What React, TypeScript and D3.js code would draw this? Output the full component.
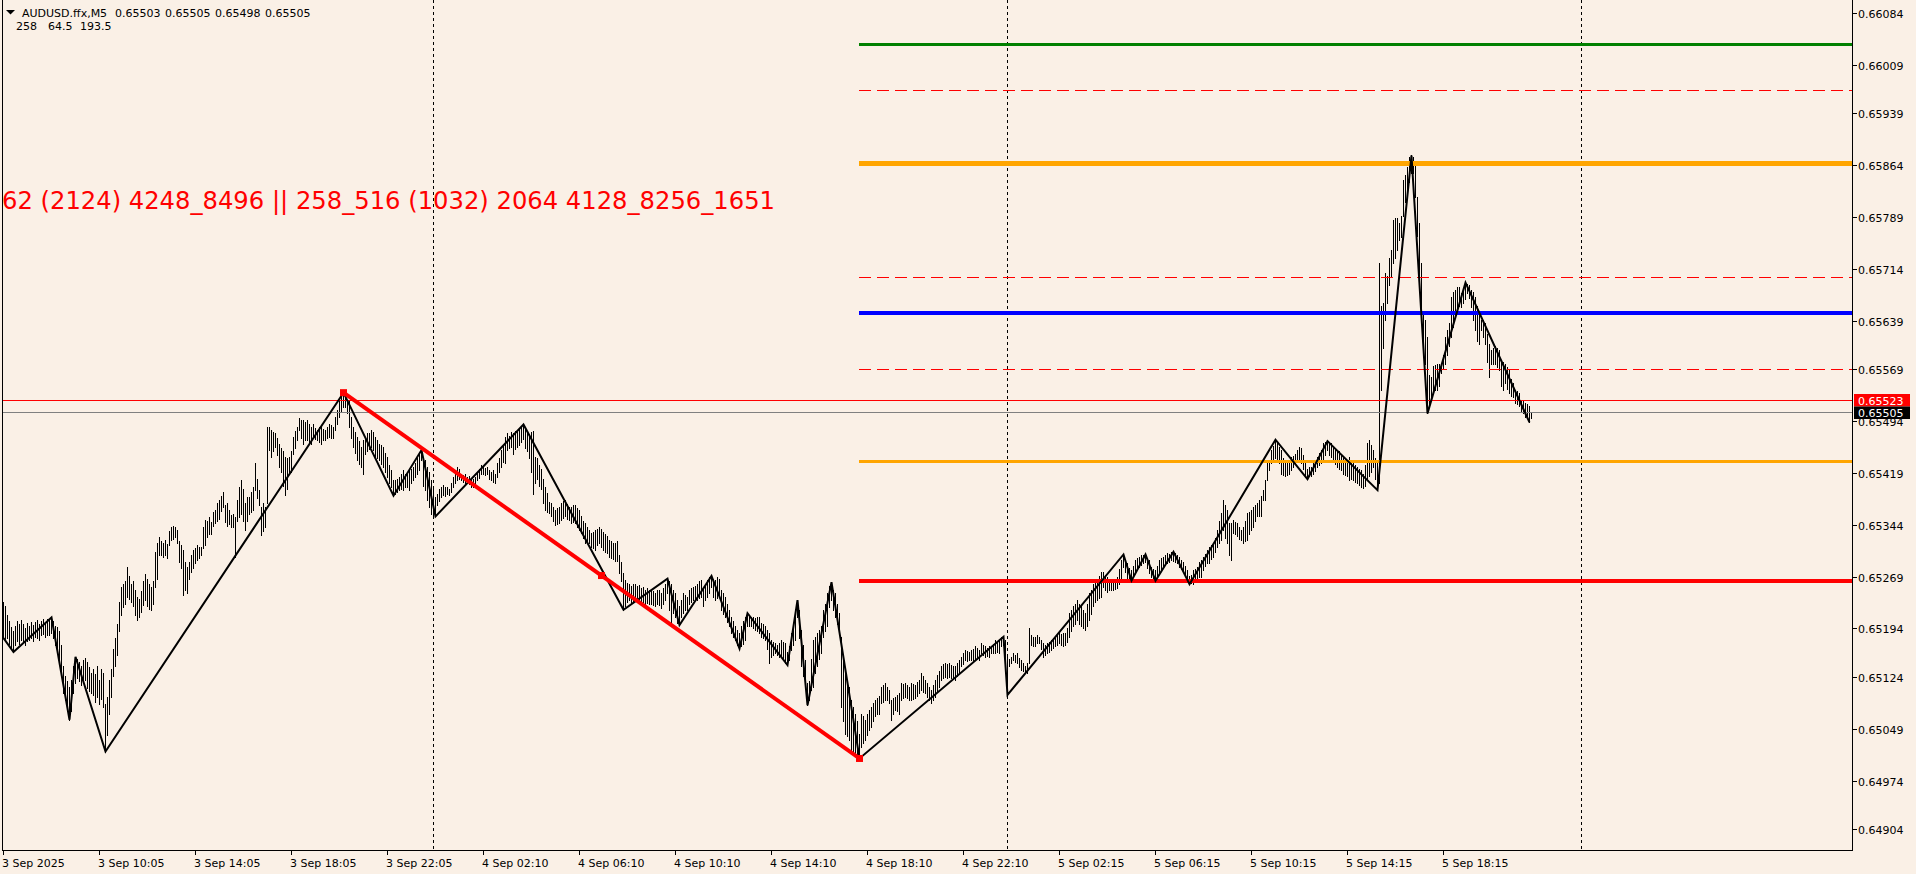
import React from "react";
import * as d3 from "d3";

const WIDTH = 1916;
const HEIGHT = 874;
const FONT = "'DejaVu Sans', sans-serif";

// ---------- DATA ----------
// Bar highs / lows in points (0.00001) above 0.65000, M5 bars
const high3Sep = [
  232,226,214,205,196,190,198,205,200,206,
  200,195,202,198,203,199,204,206,200,205,
  208,203,207,206,210,205,198,196,190,170,
  140,125,118,110,120,140,153,150,146,140,
  148,152,145,138,130,136,128,140,120,135,
  130,85,95,120,135,165,180,200,232,254,
  258,262,283,270,259,262,250,240,236,248,
  262,273,266,258,254,262,305,317,326,320,
  317,322,316,335,341,342,340,336,320,314,
  307,290,283,290,300,307,310,314,312,312,
  340,351,350,355,348,362,365,375,380,386,
  391,372,375,366,358,360,355,380,399,408,
  395,375,384,384,392,399,433,410,394,370,
  375,370,486,486,481,478,476,470,461,455,
  450,442,440,442,450,471,480,486,498,495,
  495,493,495,490,486,490,484,481,486,486,
  482,481,485,490,488,486,500,510,524,530,
  535,531,525,524,500,486,478,471,465,457,
  466,471,476,476,481,478,471,466,461,460,
  457,448,442,430,423,408,408,410,413,418,
  423,418,420,423,425,428,433,440,447,452,
  440,437,428,420,408,
];
const low3Sep = [
  180,178,180,172,166,160,170,176,172,178,
  174,170,176,178,180,176,182,180,178,184,
  186,182,185,184,188,180,170,160,150,130,
  100,90,75,62,75,100,115,122,118,112,
  116,120,108,104,100,98,88,95,85,92,
  80,16,40,70,95,125,140,155,190,214,
  225,230,240,236,232,226,214,206,210,218,
  228,235,226,222,220,230,254,266,300,300,
  298,300,296,315,322,324,326,317,290,282,
  242,250,245,266,275,281,288,293,296,300,
  310,314,326,330,331,342,346,350,352,364,
  370,348,342,345,341,340,298,350,355,360,
  350,336,350,360,362,365,394,382,372,329,
  335,341,375,452,442,450,457,445,428,420,
  400,387,395,418,420,447,455,466,481,470,
  461,466,466,462,461,469,468,466,463,461,
  466,466,470,471,469,470,481,490,500,508,
  514,514,505,486,470,457,448,437,432,428,
  418,447,450,454,457,452,442,440,437,432,
  428,420,413,405,399,386,389,392,394,396,
  394,399,398,394,404,408,413,418,423,437,
  400,394,380,370,360,
];
const high4Sep = [
  395,384,389,395,399,
  401,398,399,396,405,413,420,428,424,418,
  416,417,413,414,408,410,413,420,425,430,
  428,426,428,423,420,423,418,433,440,452,
  460,471,476,472,478,476,480,481,484,486,
  489,485,480,475,478,479,442,440,430,425,
  410,398,390,377,375,370,365,368,370,375,
  378,380,374,370,370,372,373,368,365,356,
  350,346,340,336,332,334,336,338,341,338,
  334,330,327,322,320,317,318,320,300,290,
  274,264,260,259,255,258,259,256,257,252,
  254,250,252,250,250,248,245,249,250,245,
  252,259,266,262,259,250,245,235,226,235,
  245,242,240,250,252,254,256,259,262,264,
  254,258,264,268,270,266,264,268,266,250,
  245,240,230,221,211,205,197,192,187,197,
  205,211,216,214,211,210,209,210,211,202,
  200,197,192,187,177,175,173,170,173,177,
  175,173,160,168,187,200,211,235,220,192,
  170,148,115,118,150,177,182,187,192,197,
  221,230,245,255,261,250,245,230,216,182,
  150,129,120,110,91,80,71,60,42,71,
  68,62,70,76,81,86,91,94,96,110,
  112,115,110,105,91,93,95,98,100,115,
  114,115,112,110,115,113,112,116,120,129,
  125,120,115,110,105,112,120,126,132,139,
  142,144,143,144,141,140,139,144,148,153,
  158,163,161,160,163,165,168,166,163,173,
  170,168,166,168,168,172,177,175,177,182,
  182,177,
];
const low4Sep = [
  358,356,372,378,384,
  387,386,389,387,392,399,404,408,410,408,
  406,405,404,403,399,398,399,408,412,418,
  418,416,418,410,408,406,404,413,420,428,
  435,433,452,455,457,447,454,456,460,464,
  468,455,450,440,420,389,405,410,400,395,
  375,365,362,361,356,350,344,345,346,351,
  354,356,352,351,346,348,346,340,336,332,
  325,317,318,317,312,310,308,314,317,312,
  308,305,303,298,296,295,292,291,274,262,
  221,226,232,235,230,233,235,234,235,230,
  232,230,231,230,230,228,226,229,228,223,
  230,235,245,220,202,216,210,202,199,210,
  216,220,221,230,232,235,236,235,238,240,
  226,235,240,245,254,240,235,238,240,221,
  215,211,204,197,187,182,177,170,165,168,
  172,177,197,198,197,195,192,190,187,182,
  180,177,165,144,153,156,158,155,153,153,
  150,144,141,148,163,170,177,211,180,139,
  125,110,83,91,105,110,130,139,150,158,
  182,190,197,225,235,220,211,200,187,81,
  60,42,38,33,18,15,13,10,6,23,
  28,33,40,47,52,60,67,70,71,86,
  88,91,90,86,62,70,76,74,71,91,
  93,95,93,91,91,92,93,96,100,105,
  102,100,95,91,86,90,95,104,110,120,
  122,124,123,124,122,121,120,125,129,139,
  143,148,147,148,148,148,148,150,148,158,
  155,153,154,153,158,158,158,160,158,168,
  170,144,
];
const high5Sep = [
  153,150,153,158,156,158,152,148,
  144,140,144,194,185,182,182,185,182,178,
  173,170,173,175,178,180,182,185,187,186,
  187,187,195,216,220,226,230,235,230,226,
  220,216,230,245,250,259,262,264,270,276,
  276,272,269,266,266,264,265,269,280,293,
  301,295,288,282,278,285,293,296,298,300,
  300,301,296,293,283,280,278,285,293,296,
  298,300,303,302,304,305,303,300,298,293,
  290,285,278,270,272,279,280,283,290,293,
  298,302,307,312,314,317,325,336,350,361,
  380,372,365,346,346,351,348,346,340,336,
  341,350,361,363,365,370,372,375,380,385,
  394,409,433,438,452,458,467,462,457,452,
  440,433,436,438,442,444,447,452,457,455,
  445,433,425,428,428,433,438,442,448,452,
  462,463,465,462,462,457,455,452,450,447,
  442,440,438,442,436,433,430,428,425,423,
  418,430,462,467,460,452,440,433,722,660,
  664,708,703,730,741,785,787,787,780,790,
  843,850,862,876,878,876,867,818,780,722,
  650,640,616,560,558,573,575,577,577,577,
  590,616,625,635,674,680,684,688,688,679,
  685,694,692,690,684,680,674,660,650,640,
  640,635,620,606,597,600,602,600,597,582,
  580,577,572,568,555,549,539,537,534,525,
  525,520,518,515,505,
];
const low5Sep = [
  98,140,144,148,146,144,138,134,
  132,130,129,144,170,168,168,173,173,165,
  153,156,158,160,163,166,168,170,173,170,
  168,170,175,182,190,197,200,206,200,197,
  195,192,198,206,215,226,232,235,238,240,
  254,250,247,250,250,250,251,252,258,264,
  283,275,266,264,263,270,274,280,283,286,
  288,290,282,274,268,264,263,270,276,280,
  283,286,288,290,293,292,290,288,283,280,
  275,270,265,258,260,259,262,264,268,269,
  279,284,288,288,294,298,305,312,318,322,
  336,325,317,300,293,332,330,327,324,322,
  317,320,322,330,336,341,350,356,356,356,
  380,380,409,423,433,438,440,438,433,418,
  416,414,416,418,423,428,433,436,438,433,
  425,414,410,414,414,418,422,428,430,433,
  438,445,452,445,442,438,432,428,425,423,
  418,416,414,409,410,409,406,404,401,399,
  397,400,409,414,420,428,410,394,404,539,
  600,640,664,690,703,722,730,741,756,760,
  790,810,818,840,852,852,818,761,700,645,
  602,577,505,515,529,539,539,539,545,563,
  570,577,590,602,616,630,645,655,660,659,
  664,670,679,672,659,640,626,610,606,626,
  615,606,580,558,577,577,577,572,568,545,
  539,549,540,534,530,529,520,518,515,508,
  505,500,498,492,498,
];

// ZigZag pivots (bar index, points)
const zigzagBars = [0,5,24,33,36,51,170,195,209,216,260,310,332,338,354,368,372,392,397,402,414,428,500,502,560,564,571,576,585,593,636,652,662,687,704,712,731,763];
const zigzagPts = [180,160,210,62,153,16,535,386,452,356,489,221,266,199,270,165,216,141,235,83,261,6,182,98,301,263,301,263,305,258,467,410,465,394,878,505,694,492];

// Higher-degree swing (red)
const swingBars = [170, 428];
const swingPts = [535, 6];
const swingMarkBars = [170, 299, 428];

// Horizontal levels (price)
const levelPrices = [0.66038, 0.65973, 0.65866, 0.65702, 0.6565, 0.65569, 0.65435, 0.65263];
const levelStartBar = 428;

const askPrice = 0.65523;
const bidPrice = 0.65505;

// Day separators (bar index)
const separatorBars = [215, 502, 789];

// Time axis
const timeTickBars = [0, 48, 96, 144, 192, 240, 288, 336, 384, 432, 480, 528, 576, 624, 672, 720];
const timeTickLabels = [
  "3 Sep 2025", "3 Sep 10:05", "3 Sep 14:05", "3 Sep 18:05", "3 Sep 22:05",
  "4 Sep 02:10", "4 Sep 06:10", "4 Sep 10:10", "4 Sep 14:10", "4 Sep 18:10",
  "4 Sep 22:10", "5 Sep 02:15", "5 Sep 06:15", "5 Sep 10:15", "5 Sep 14:15", "5 Sep 18:15",
];

// Price axis
const priceTickLabels = [
  "0.66084", "0.66009", "0.65939", "0.65864", "0.65789", "0.65714", "0.65639", "0.65569",
  "0.65494", "0.65419", "0.65344", "0.65269", "0.65194", "0.65124", "0.65049", "0.64974", "0.64904",
];

// Header
const symbolTitle = "AUDUSD.ffx,M5";
const headerOHLC = ["0.65503", "0.65505", "0.65498", "0.65505"];
const headerStats = ["258", "64.5", "193.5"];
const annotation = "62 (2124) 4248_8496 || 258_516 (1032) 2064 4128_8256_1651";

// ---------- CHART ----------
const toPrice = (p: number) => 0.65 + p * 0.00001;

export default function App() {
  const highs = [...high3Sep, ...high4Sep, ...high5Sep].map(toPrice);
  const lows = [...low3Sep, ...low4Sep, ...low5Sep].map(toPrice);

  const PL = 2, PR = 1852, PB = 850, PT = 0;
  const x = d3.scaleLinear().domain([-0.5, 924.5]).range([PL, PR]);
  const y = d3.scaleLinear().domain([0.66084, 0.64904]).range([13, 829]);

  let barsPath = "";
  highs.forEach((h, i) => {
    const bx = Math.round(x(i)) + 0.5;
    const yh = Math.round(y(h));
    const yl = Math.round(y(lows[i]));
    barsPath += `M${bx},${yh}V${yl + 1}`;
  });

  const zzLine = d3
    .line<number>()
    .x((b) => x(zigzagBars[b]) + 0.5)
    .y((b) => y(toPrice(zigzagPts[b])));
  const zzPath = zzLine(d3.range(zigzagBars.length)) || "";

  const swingLine = d3
    .line<number>()
    .x((b) => x(swingBars[b]) + 0.5)
    .y((b) => y(toPrice(swingPts[b])));
  const swingPath = swingLine(d3.range(swingBars.length)) || "";
  const swingAt = d3
    .scaleLinear()
    .domain(swingBars)
    .range(swingPts.map(toPrice));

  const levelStyles = [
    { color: "#008000", width: 3, dash: "" },
    { color: "#FF0000", width: 1, dash: "12,6" },
    { color: "#FFA500", width: 5, dash: "" },
    { color: "#FF0000", width: 1, dash: "12,6" },
    { color: "#0000FF", width: 4, dash: "" },
    { color: "#FF0000", width: 1, dash: "12,6" },
    { color: "#FFA500", width: 3, dash: "" },
    { color: "#FF0000", width: 4, dash: "" },
  ];
  const lx0 = Math.round(x(levelStartBar));

  const askY = Math.round(y(askPrice)) - 0.5;
  const bidY = Math.round(y(bidPrice)) - 0.5;

  return (
    <svg
      width={WIDTH}
      height={HEIGHT}
      style={{ position: "absolute", left: 0, top: 0, display: "block" }}
      fontFamily={FONT}
    >
      <rect x={0} y={0} width={WIDTH} height={HEIGHT} fill="#FAF0E6" />

      {/* day separators */}
      {separatorBars.map((b, k) => (
        <line
          key={"sep" + k}
          x1={Math.round(x(b)) + 0.5}
          x2={Math.round(x(b)) + 0.5}
          y1={PT}
          y2={PB}
          stroke="#000"
          strokeWidth={1}
          strokeDasharray="3,3"
        />
      ))}

      {/* price bars */}
      <path d={barsPath} stroke="#000" strokeWidth={1} fill="none" shapeRendering="crispEdges" />

      {/* horizontal levels */}
      {levelPrices.map((p, k) => {
        const s = levelStyles[k];
        const yy = y(p);
        if (s.dash) {
          const yc = Math.round(yy) + 0.5;
          return (
            <line
              key={"lv" + k}
              x1={lx0}
              x2={PR}
              y1={yc}
              y2={yc}
              stroke={s.color}
              strokeWidth={1}
              strokeDasharray={s.dash}
              shapeRendering="crispEdges"
            />
          );
        }
        return (
          <rect
            key={"lv" + k}
            x={lx0}
            y={Math.round(yy - s.width / 2)}
            width={PR - lx0}
            height={s.width}
            fill={s.color}
          />
        );
      })}

      {/* ask / bid lines */}
      <line x1={PL} x2={PR} y1={askY} y2={askY} stroke="#FF0000" strokeWidth={1} shapeRendering="crispEdges" />
      <line x1={PL} x2={PR} y1={bidY} y2={bidY} stroke="#808080" strokeWidth={1} shapeRendering="crispEdges" />

      {/* zigzag */}
      <path d={zzPath} stroke="#000" strokeWidth={2} fill="none" strokeLinejoin="miter" />

      {/* red swing */}
      <path d={swingPath} stroke="#FF0000" strokeWidth={4} fill="none" />
      {swingMarkBars.map((b, k) => (
        <rect
          key={"mk" + k}
          x={x(b) + 0.5 - 3.5}
          y={y(swingAt(b)) - 3.5}
          width={7}
          height={7}
          fill="#FF0000"
        />
      ))}

      {/* annotation text */}
      <text x={2} y={209} fontSize={24} fill="#FF0000" textLength={773} lengthAdjust="spacingAndGlyphs">
        {annotation}
      </text>

      {/* header */}
      <path d="M6,10 L15,10 L10.5,14.5 Z" fill="#000" />
      <text x={22} y={17} fontSize={11} fill="#000">
        {symbolTitle}
      </text>
      {headerOHLC.map((t, k) => (
        <text key={"oh" + k} x={115 + k * 50} y={17} fontSize={11} fill="#000">
          {t}
        </text>
      ))}
      {headerStats.map((t, k) => (
        <text key={"hs" + k} x={[16, 48, 80][k]} y={30} fontSize={11} fill="#000">
          {t}
        </text>
      ))}

      {/* plot border */}
      <rect x={PL} y={PT} width={1} height={PB - PT + 1} fill="#000" />
      <rect x={PR} y={PT} width={1} height={PB - PT + 1} fill="#000" />
      <rect x={PL} y={PB} width={PR - PL + 1} height={1} fill="#000" />

      {/* price axis */}
      {priceTickLabels.map((t, k) => {
        const yy = Math.round(y(+t));
        return (
          <g key={"pt" + k}>
            <rect x={PR + 1} y={yy} width={4} height={1} fill="#000" />
            <text x={1858} y={yy + 4.5} fontSize={11} fill="#000">
              {t}
            </text>
          </g>
        );
      })}

      {/* price tags */}
      <rect x={1854} y={394} width={56} height={12.5} fill="#FF0000" />
      <text x={1858} y={404.5} fontSize={11} fill="#FFFFFF">
        {askPrice.toFixed(5)}
      </text>
      <rect x={1854} y={406.5} width={56} height={12.5} fill="#000" />
      <text x={1858} y={417} fontSize={11} fill="#FFFFFF">
        {bidPrice.toFixed(5)}
      </text>

      {/* time axis */}
      {timeTickBars.map((b, k) => {
        const xx = Math.round(x(b));
        return (
          <g key={"tt" + k}>
            <rect x={xx} y={PB + 1} width={1} height={4} fill="#000" />
            <text x={xx - 1} y={867} fontSize={11} fill="#000">
              {timeTickLabels[k]}
            </text>
          </g>
        );
      })}
    </svg>
  );
}
